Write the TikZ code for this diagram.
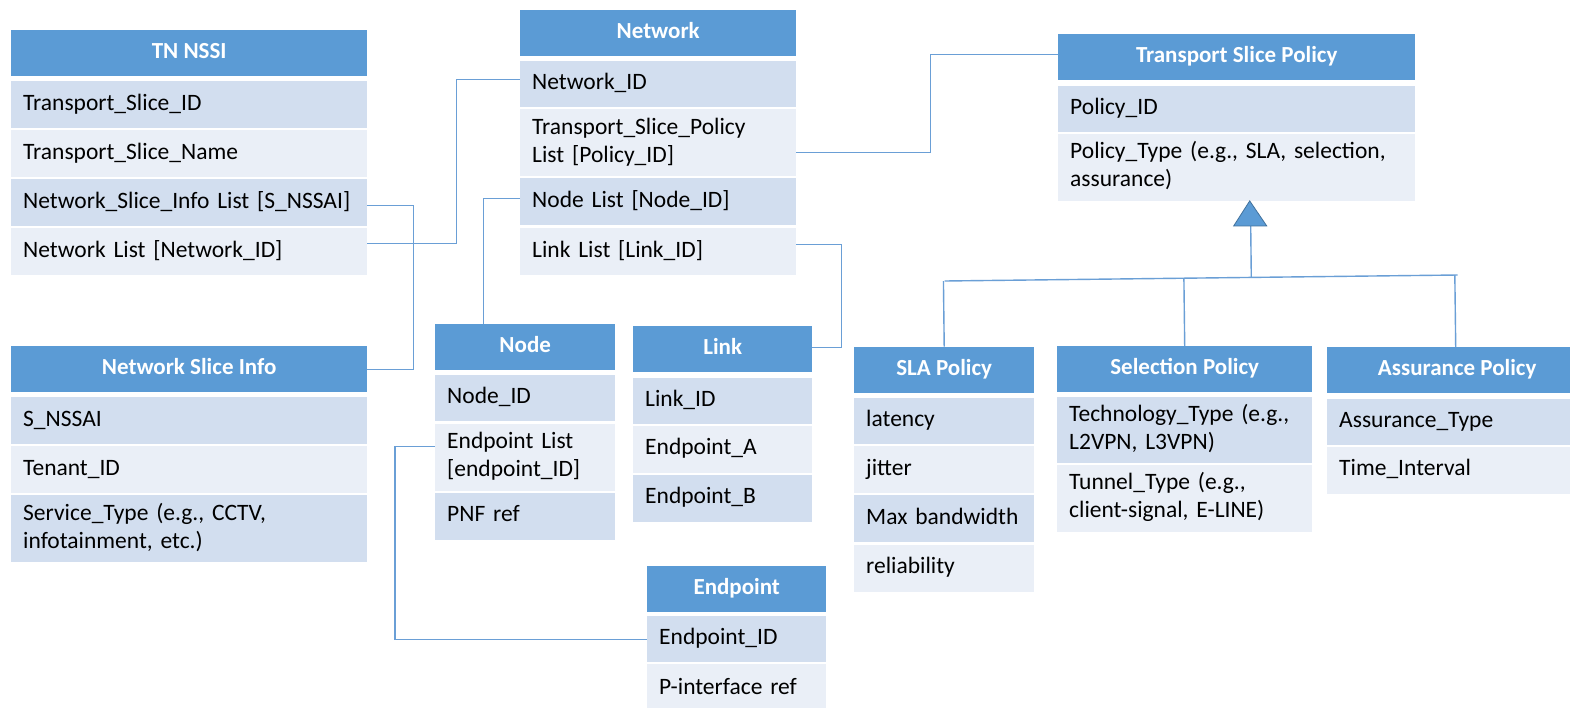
\documentclass[tikz,border=0pt]{standalone}
\usepackage{fontspec}
\setmainfont{Carlito}
\usetikzlibrary{calc}
\definecolor{hdr}{HTML}{5B9BD5}
\definecolor{hdrdark}{HTML}{41719C}
\definecolor{rowA}{HTML}{D2DEEF}
\definecolor{rowB}{HTML}{EAEFF7}
\definecolor{linkc}{HTML}{6A9FD6}
\tikzset{
  hdrbox/.style={fill=hdr, draw=none, anchor=north west, inner sep=0pt, text=white,
    font=\fontsize{23}{28}\selectfont\bfseries, align=center},
  cellbox/.style={anchor=north west, draw=none, inner xsep=12pt, inner ysep=0pt, align=left,
    font=\fontsize{23.5}{28}\selectfont},
  conn/.style={draw=linkc, line width=1.4pt},
  genarrow/.style={fill=hdr, draw=hdrdark, line width=0.8pt, line join=miter},
}
\newcommand{\umlhead}[5]{\node[hdrbox, minimum width=#4pt, minimum height=46pt] (#1) at (#2,#3) {\strut #5};}
\newcommand{\umlrow}[7]{\pgfmathsetmacro\rowtw{#4-24}\node[cellbox, fill=#6, text width=\rowtw pt, minimum width=#4pt, minimum height=#5pt] (#1) at (#2,#3) {\strut #7\strut};}
\begin{document}
\begin{tikzpicture}[x=1pt,y=-1pt]
\useasboundingbox (0,0) rectangle (1570,707);
\fill[white] (0,0) rectangle (1570,707);
% TN NSSI
\umlhead{tn}{11}{30}{356}{TN NSSI}
\umlrow{tn1}{11}{81}{356}{47}{rowA}{Transport\_Slice\_ID}
\umlrow{tn2}{11}{130}{356}{47}{rowB}{Transport\_Slice\_Name}
\umlrow{tn3}{11}{179}{356}{47}{rowA}{Network\_Slice\_Info List [S\_NSSAI]}
\umlrow{tn4}{11}{228}{356}{47}{rowB}{Network List [Network\_ID]}
% Network
\umlhead{nw}{520}{9.5}{276}{Network}
\umlrow{nw1}{520}{60.5}{276}{46}{rowA}{Network\_ID}
\umlrow{nw2}{520}{108.5}{276}{67.5}{rowB}{Transport\_Slice\_Policy\\List [Policy\_ID]}
\umlrow{nw3}{520}{178}{276}{47}{rowA}{Node List [Node\_ID]}
\umlrow{nw4}{520}{227.5}{276}{47.5}{rowB}{Link List [Link\_ID]}
% Transport Slice Policy
\umlhead{tsp}{1058}{34}{357}{Transport Slice Policy}
\umlrow{tsp1}{1058}{85.5}{357}{46}{rowA}{Policy\_ID}
\umlrow{tsp2}{1058}{133.5}{357}{67}{rowB}{Policy\_Type (e.g., SLA, selection,\\assurance)}
% Network Slice Info
\umlhead{nsi}{11}{346}{356}{Network Slice Info}
\umlrow{nsi1}{11}{397}{356}{47}{rowA}{S\_NSSAI}
\umlrow{nsi2}{11}{446}{356}{47}{rowB}{Tenant\_ID}
\umlrow{nsi3}{11}{495}{356}{67}{rowA}{Service\_Type (e.g., CCTV,\\infotainment, etc.)}
% Node
\umlhead{nodeh}{435}{324}{180}{Node}
\umlrow{node1}{435}{375}{180}{46}{rowA}{Node\_ID}
\umlrow{node2}{435}{423.5}{180}{67}{rowB}{Endpoint List\\{[}endpoint\_ID{]}}
\umlrow{node3}{435}{492.5}{180}{47}{rowA}{PNF ref}
% Link
\umlhead{linkh}{633}{326}{179}{Link}
\umlrow{link1}{633}{377.5}{179}{46}{rowA}{Link\_ID}
\umlrow{link2}{633}{425.5}{179}{47}{rowB}{Endpoint\_A}
\umlrow{link3}{633}{474.5}{179}{47}{rowA}{Endpoint\_B}
% Endpoint
\umlhead{eph}{647}{565.5}{179}{Endpoint}
\umlrow{ep1}{647}{616}{179}{46}{rowA}{Endpoint\_ID}
\umlrow{ep2}{647}{664}{179}{50}{rowB}{P-interface ref}
% SLA Policy
\umlhead{slah}{854}{346.5}{180}{SLA Policy}
\umlrow{sla1}{854}{397.5}{180}{46.5}{rowA}{latency}
\umlrow{sla2}{854}{446}{180}{47}{rowB}{jitter}
\umlrow{sla3}{854}{495}{180}{47}{rowA}{Max bandwidth}
\umlrow{sla4}{854}{544.5}{180}{47}{rowB}{reliability}
% Selection Policy
\umlhead{selh}{1057}{346}{255}{Selection Policy}
\umlrow{sel1}{1057}{397}{255}{65.5}{rowA}{Technology\_Type (e.g.,\\L2VPN, L3VPN)}
\umlrow{sel2}{1057}{464.5}{255}{67}{rowB}{Tunnel\_Type (e.g.,\\client-signal, E-LINE)}
% Assurance Policy
\umlhead{ash}{1327}{347}{260}{Assurance Policy}
\umlrow{as1}{1327}{398.5}{260}{46}{rowA}{Assurance\_Type}
\umlrow{as2}{1327}{446.5}{260}{47}{rowB}{Time\_Interval}
% connectors
\draw[conn] ([yshift=-3pt]tn3.east) -- ++(46,0) |- (nsi.east);
\draw[conn] ([yshift=8pt]tn4.east) -- ++(89,0) |- ([yshift=4pt]nw1.west);
\draw[conn] ([yshift=-10pt]nw2.east) -- ++(134,0) |- ([yshift=3pt]tsp.west);
\draw[conn] ([yshift=3pt]nw3.west) -| ([xshift=-42pt]nodeh.north);
\draw[conn] ([yshift=7pt]nw4.east) -- ++(45,0) |- ([yshift=2pt]linkh.east);
\draw[conn] ([yshift=11pt]node2.west) -- ++(-40,0) |- (ep1.west);
% generalization
\coordinate (apex) at ([xshift=13pt]tsp2.south);
\coordinate (stem) at ($(apex)+(1,25)$);
\coordinate (tl) at (944.5,281);
\coordinate (tr) at (1457.5,275);
\draw[conn] (tl) -- (tr);
\draw[conn] (stem) -- ($(tl)!(stem)!(tr)$);
\draw[conn] (slah.north) -- ($(tl)!(slah.north)!(tr)$);
\draw[conn] (selh.north) -- ($(tl)!(selh.north)!(tr)$);
\draw[conn] ([xshift=-1.5pt]ash.north) -- ($(tl)!([xshift=-1.5pt]ash.north)!(tr)$);
\draw[genarrow] (apex) -- ($(apex)+(17,25)$) -- ($(apex)+(-16,25)$) -- cycle;
\end{tikzpicture}
\end{document}
